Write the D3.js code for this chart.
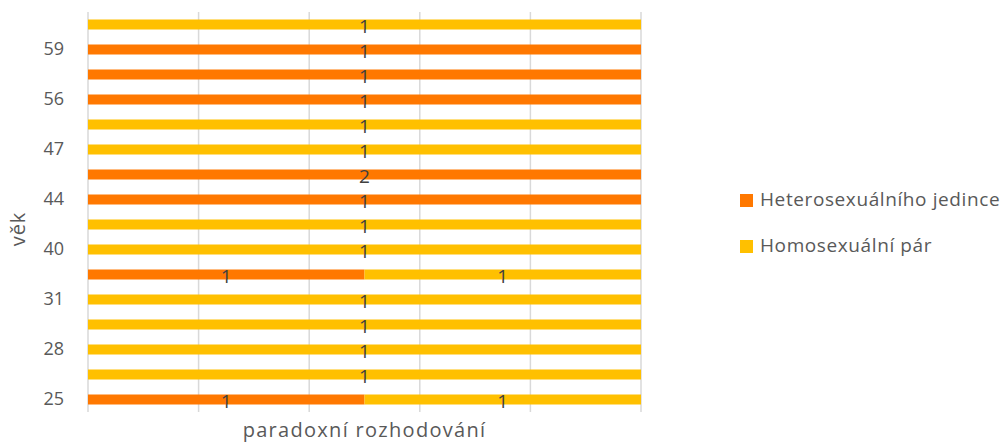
<!DOCTYPE html>
<html><head><meta charset="utf-8">
<script src="https://cdn.jsdelivr.net/npm/d3@7"></script>
<style>body{margin:0;background:#fff;} svg{display:block;font-family:"Open Sans",sans-serif;}</style>
</head><body>
<svg id="c" width="1002" height="445"></svg>
<script>
// categories bottom -> top
const ages = ["25","27","28","30","31","35","40","42","44","45","47","50","56","57","59","62"];
const hetero = [1,0,0,0,0,1,0,0,1,2,0,0,1,1,1,0];
const homo   = [1,1,1,1,1,1,1,1,0,0,1,1,0,0,0,1];
const seriesNames = ["Heterosexuálního jedince","Homosexuální pár"];
const colors = ["#FF7800","#FFC000"];
const shownTicks = ["25","28","31","40","44","47","56","59"];

const svg = d3.select("#c");
const m = {l:88, r:641, t:12, b:412};
const x = d3.scaleLinear().domain([0,1]).range([m.l, m.r]);
const y = d3.scaleBand().domain(ages.slice().reverse()).range([m.t, m.b]).paddingInner(0.6).paddingOuter(0.3);

// gridlines
svg.append("g").selectAll("line").data(d3.range(0,1.0001,0.2)).join("line")
  .attr("x1",d=>x(d)).attr("x2",d=>x(d)).attr("y1",m.t).attr("y2",m.b)
  .attr("stroke","#d9d9d9").attr("stroke-width",1.5);

const rows = ages.map((a,i)=>{
  const tot = hetero[i]+homo[i];
  return {age:a, segs:[
    {s:0, v:hetero[i], x0:0, x1:hetero[i]/tot},
    {s:1, v:homo[i], x0:hetero[i]/tot, x1:1}
  ]};
});

const g = svg.append("g");
rows.forEach(r=>{
  r.segs.filter(s=>s.v>0).forEach(s=>{
    g.append("rect").attr("x",x(s.x0)).attr("width",x(s.x1)-x(s.x0))
      .attr("y",y(r.age)).attr("height",y.bandwidth()).attr("fill",colors[s.s]);
  });
});
rows.forEach(r=>{
  r.segs.filter(s=>s.v>0).forEach(s=>{
    g.append("text").attr("x",x((s.x0+s.x1)/2)).attr("y",y(r.age)+y.bandwidth()/2)
      .attr("dy","0.46em").attr("text-anchor","middle").attr("font-size",19)
      .attr("fill","#404040").text(s.v);
  });
});

// y axis labels
const ya = svg.append("g").attr("transform",`translate(${m.l},0)`)
  .call(d3.axisLeft(y).tickValues(shownTicks).tickSize(0).tickPadding(24));
ya.select(".domain").remove();
ya.selectAll("text").attr("font-size",18).attr("dy","0.3em").attr("fill","#595959").attr("font-family","'Open Sans',sans-serif");

// axis titles
svg.append("text").attr("x",(m.l+m.r)/2).attr("y",437).attr("text-anchor","middle")
  .attr("font-size",20).attr("letter-spacing","1.3px").attr("fill","#595959").text("paradoxní rozhodování");
svg.append("text").attr("transform",`translate(25,${(m.t+m.b)/2+17}) rotate(-90)`).attr("text-anchor","middle")
  .attr("font-size",20).attr("letter-spacing","1px").attr("fill","#595959").text("věk");

// legend
const lg = svg.append("g").selectAll("g").data(seriesNames).join("g")
  .attr("transform",(d,i)=>`translate(740,${194+i*46})`);
lg.append("rect").attr("width",13).attr("height",13).attr("fill",(d,i)=>colors[i]);
lg.append("text").attr("x",20).attr("y",12).attr("font-size",19).attr("letter-spacing","0.6px")
  .attr("fill","#595959").text(d=>d);
</script>
</body></html>
